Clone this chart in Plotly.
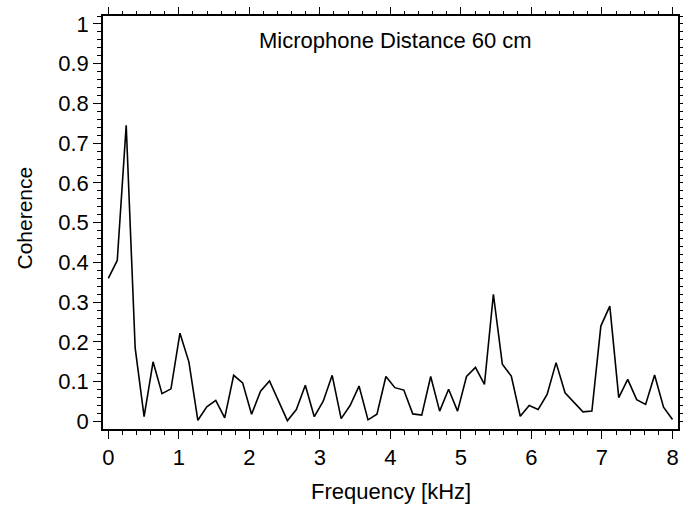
import numpy as np
import plotly.graph_objects as go

# Frequency axis: 64 bins from 0 to 8 kHz
freq_khz = list(np.linspace(0, 8, 64))
coherence = [
    0.36, 0.405, 0.745, 0.185, 0.012, 0.15, 0.07, 0.082, 0.222, 0.15,
    0.003, 0.037, 0.053, 0.009, 0.116, 0.097, 0.018, 0.076, 0.102, 0.052,
    0.002, 0.03, 0.091, 0.012, 0.051, 0.116, 0.007, 0.04, 0.089, 0.004,
    0.018, 0.113, 0.085, 0.079, 0.019, 0.016, 0.113, 0.026, 0.081, 0.026,
    0.113, 0.136, 0.093, 0.32, 0.144, 0.114, 0.013, 0.04, 0.03, 0.068,
    0.148, 0.072, 0.047, 0.024, 0.026, 0.24, 0.29, 0.06, 0.106, 0.055,
    0.043, 0.117, 0.036, 0.005,
]
x_tick_step = 1        # kHz between labelled ticks
x_minor_step = 0.2
y_tick_step = 0.1
y_minor_step = 0.02
x_range = [-0.075, 8.078]
y_range = [-0.019, 1.02]
title_text = "Microphone Distance 60 cm"
x_title = "Frequency [kHz]"
y_title = "Coherence"

FONT = "Liberation Sans, Arial, Helvetica, sans-serif"

fig = go.Figure()
fig.add_trace(go.Scatter(
    x=freq_khz, y=coherence, mode="lines",
    line=dict(color="black", width=1.6),
    showlegend=False, hoverinfo="skip",
))
# invisible helper so the mirrored (top/right) tick axes get drawn
fig.add_trace(go.Scatter(
    x=freq_khz[:1], y=coherence[:1], mode="markers", xaxis="x2", yaxis="y2",
    marker=dict(opacity=0, size=1), showlegend=False, hoverinfo="skip",
))

tick_common = dict(
    ticks="outside", tickcolor="black", tickwidth=1.2, ticklen=8,
    showgrid=False, zeroline=False, automargin=False,
    tickmode="linear", tick0=0,
    tickfont=dict(family=FONT, size=22, color="black"),
)

def minor(step):
    return dict(dtick=step, tick0=0, ticks="outside", ticklen=4,
                tickcolor="black", tickwidth=1, showgrid=False)

fig.update_layout(
    template="none",
    width=683, height=515,
    margin=dict(l=103, r=5, t=16, b=86, pad=0),
    paper_bgcolor="white", plot_bgcolor="white",
    font=dict(family=FONT, color="black"),
    xaxis=dict(range=x_range, dtick=x_tick_step, minor=minor(x_minor_step),
               showline=True, linecolor="black", linewidth=1.5, mirror=True,
               **tick_common),
    yaxis=dict(range=y_range, dtick=y_tick_step, minor=minor(y_minor_step),
               showline=True, linecolor="black", linewidth=1.5, mirror=True,
               **tick_common),
    xaxis2=dict(range=x_range, dtick=x_tick_step, minor=minor(x_minor_step),
                overlaying="x", side="top", anchor="y", showline=False,
                showticklabels=False, **tick_common),
    yaxis2=dict(range=y_range, dtick=y_tick_step, minor=minor(y_minor_step),
                overlaying="y", side="right", anchor="x", showline=False,
                showticklabels=False, **tick_common),
    annotations=[
        dict(text=title_text, xref="paper", yref="paper", x=0.508, y=0.940,
             xanchor="center", yanchor="middle", showarrow=False,
             font=dict(family=FONT, size=22, color="black")),
        dict(text=x_title, xref="paper", yref="paper", x=0.5, y=-0.152,
             xanchor="center", yanchor="middle", showarrow=False,
             font=dict(family=FONT, size=22, color="black")),
        dict(text=y_title, xref="paper", yref="paper", x=-0.1357, y=0.512,
             xanchor="center", yanchor="middle", showarrow=False, textangle=-90,
             font=dict(family=FONT, size=21, color="black")),
    ],
)

fig.write_html(
    "out.html",
    config={"displayModeBar": False},
    post_script="document.body.style.margin='0px';document.body.style.overflow='hidden';",
)
